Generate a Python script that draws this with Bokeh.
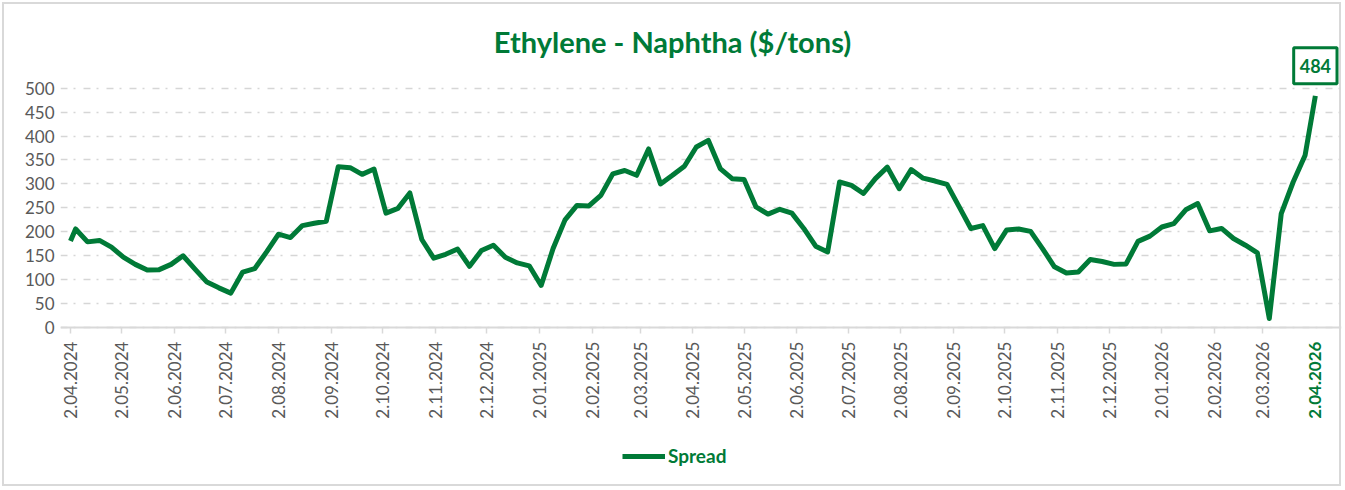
from math import pi
import pandas as pd
from bokeh.plotting import figure
from bokeh.models import (ColumnDataSource, Range1d, FixedTicker, Label, Legend,
                          LegendItem)
from bokeh.embed import file_html
from bokeh.resources import INLINE

# ---------------- data ----------------
first_date = "2024-04-02"
weekly_start = "2024-04-05"
n_weekly = 104
last_date = "2026-04-02"

spread = [181,
          206, 179, 182, 168, 147, 132, 120, 121, 132, 150,
          122, 95, 83, 72, 116, 123, 158, 195, 188, 213,
          218, 222, 336, 334, 320, 331, 239, 249, 281, 184,
          145, 153, 164, 128, 161, 172, 147, 135, 129, 88,
          165, 225, 255, 254, 276, 321, 328, 318, 373, 300,
          318, 337, 377, 391, 332, 311, 309, 252, 237, 247,
          239, 207, 170, 158, 304, 297, 280, 311, 335, 290,
          330, 312, 306, 299, 253, 207, 213, 165, 204, 206,
          201, 165, 127, 114, 116, 142, 138, 132, 133, 180,
          191, 210, 217, 246, 259, 202, 207, 186, 172, 156,
          19, 238, 304, 360,
          484]

x_tick_labels = ["2.04.2024", "2.05.2024", "2.06.2024", "2.07.2024", "2.08.2024",
                 "2.09.2024", "2.10.2024", "2.11.2024", "2.12.2024", "2.01.2025",
                 "2.02.2025", "2.03.2025", "2.04.2025", "2.05.2025", "2.06.2025",
                 "2.07.2025", "2.08.2025", "2.09.2025", "2.10.2025", "2.11.2025",
                 "2.12.2025", "2.01.2026", "2.02.2026", "2.03.2026"]
last_tick_label = "2.04.2026"
y_ticks = [0, 50, 100, 150, 200, 250, 300, 350, 400, 450, 500]

title_text = "Ethylene - Naphtha ($/tons)"
series_name = "Spread"

# ---------------- styling / layout ----------------
GREEN = "#007A37"
GREY_TXT = "#595959"
GRID = "#d6d6d6"
AXIS = "#d9d9d9"
FONT = "Lato"
X_START, X_END = "2024-03-27 03:20", "2026-04-17 08:00"
Y_START, Y_END = -336, 683


def ms(ts):
    return int(pd.Timestamp(ts).value // 10**6)


dates = ([pd.Timestamp(first_date)]
         + list(pd.date_range(weekly_start, periods=n_weekly, freq="7D"))
         + [pd.Timestamp(last_date)])
source = ColumnDataSource(dict(date=dates, spread=spread))

tick_ms = [ms(pd.to_datetime(t, format="%d.%m.%Y")) for t in x_tick_labels]
last_ms = ms(pd.to_datetime(last_tick_label, format="%d.%m.%Y"))

p = figure(frame_width=1281, frame_height=488, x_axis_type="datetime",
           x_range=Range1d(ms(X_START), ms(X_END)),
           y_range=Range1d(Y_START, Y_END), title=None,
           output_backend="svg", toolbar_location=None,
           min_border_left=60, min_border_right=2,
           min_border_top=0, min_border_bottom=0)
p.styles = {"outline": "2px solid #d9d9d9", "outline-offset": "-4px"}
p.outline_line_color = None
p.background_fill_color = None
p.border_fill_color = None

r = p.line("date", "spread", source=source, line_color=GREEN, line_width=5,
           line_join="round")

# title
p.add_layout(Label(x=612, y=447, x_units="screen", y_units="screen",
                   text=title_text, text_align="center", text_baseline="middle",
                   text_font=FONT, text_font_size="29px", text_font_style="bold",
                   text_color=GREEN))

# x axis, drawn at value 0
xa = p.xaxis[0]
xa.fixed_location = 0
xa.ticker = FixedTicker(ticks=tick_ms)
xa.major_label_overrides = {t: l for t, l in zip(tick_ms, x_tick_labels)}
xa.major_label_orientation = pi / 2
xa.axis_line_color = AXIS
xa.axis_line_width = 2
xa.major_tick_line_color = AXIS
xa.major_tick_line_width = 1.5
xa.major_tick_out = 6
xa.major_tick_in = 0
xa.minor_tick_line_color = None
xa.major_label_standoff = 8
xa.major_label_text_font = FONT
xa.major_label_text_font_size = "17px"
xa.major_label_text_color = GREY_TXT

# highlighted last date label
p.add_layout(Label(x=last_ms, y=0, text=last_tick_label, angle=pi / 2,
                   text_align="right", text_baseline="middle", y_offset=-14,
                   text_font=FONT, text_font_size="17px", text_font_style="bold",
                   text_color=GREEN))

# y axis
ya = p.yaxis[0]
ya.ticker = FixedTicker(ticks=y_ticks)
ya.axis_line_color = None
ya.major_tick_line_color = None
ya.minor_tick_line_color = None
ya.major_tick_out = 0
ya.major_label_standoff = 6
ya.major_label_text_font = FONT
ya.major_label_text_font_size = "17px"
ya.major_label_text_color = GREY_TXT

p.xgrid.grid_line_color = None
p.ygrid.grid_line_color = GRID
p.ygrid.grid_line_width = 1.5
p.ygrid.grid_line_dash = "7 6 2 8"

# last value callout
p.add_layout(Label(x=last_ms, y=spread[-1], text=str(spread[-1]),
                   text_align="center", text_baseline="middle", y_offset=30,
                   text_font=FONT, text_font_size="18px", text_font_style="bold",
                   text_color=GREEN, border_line_color=GREEN, border_line_width=3,
                   background_fill_color="white", padding=(6, 6, 11, 11)))

legend = Legend(items=[LegendItem(label=series_name, renderers=[r])],
                location=(562, 21), orientation="horizontal",
                border_line_color=None, background_fill_alpha=0,
                label_text_font=FONT, label_text_font_size="19px",
                label_text_font_style="bold", label_text_color=GREEN,
                glyph_width=43, glyph_height=20, label_standoff=3,
                padding=5, margin=0)
p.add_layout(legend, "center")

open("out.html", "w").write(file_html(p, INLINE))
